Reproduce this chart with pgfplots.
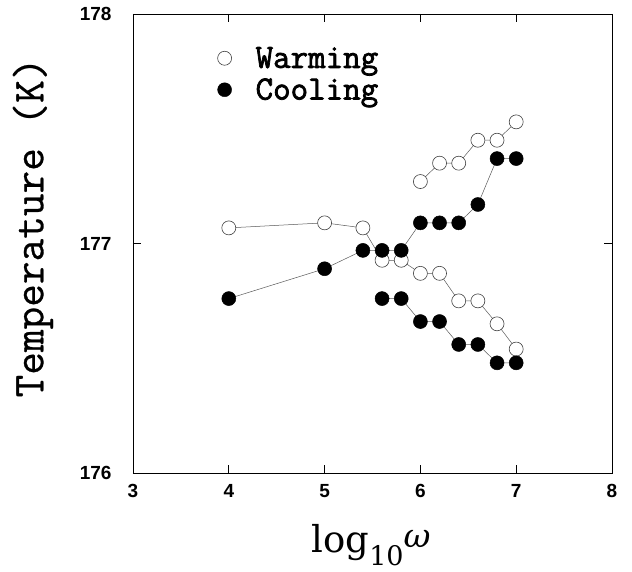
\documentclass[border=0pt]{standalone}
\usepackage{fontspec}
\setmainfont{Liberation Sans}
\newfontfamily\twfont{Latin Modern Mono}[FakeBold=0.6]
\newfontfamily\twbold{Latin Modern Mono}[FakeBold=2.2]
\newfontfamily\labelserif{DejaVu Serif}
\usepackage{pgfplots}
\pgfplotsset{compat=1.18}

% warming, two branches
\pgfplotstableread{
x y
4.0 177.068
5.0 177.090
5.4 177.068
5.6 176.927
5.8 176.927
6.0 176.870
6.2 176.870
6.4 176.750
6.6 176.750
6.8 176.650
7.0 176.540
}\warmlow
\pgfplotstableread{
x y
6.0 177.270
6.2 177.350
6.4 177.350
6.6 177.450
6.8 177.450
7.0 177.530
}\warmhigh
% cooling, two branches
\pgfplotstableread{
x y
4.0 176.760
5.0 176.890
5.4 176.970
5.6 176.970
5.8 176.970
6.0 177.090
6.2 177.090
6.4 177.090
6.6 177.170
6.8 177.370
7.0 177.370
}\coolhigh
\pgfplotstableread{
x y
5.6 176.760
5.8 176.760
6.0 176.660
6.2 176.660
6.4 176.560
6.6 176.560
6.8 176.480
7.0 176.480
}\coollow

\begin{document}
\begin{tikzpicture}
\useasboundingbox (-133pt,-98pt) rectangle (499pt,473pt);
\begin{axis}[
    at={(0,0)}, anchor=south west,
    scale only axis, width=479pt, height=459pt,
    xmin=3, xmax=8, ymin=176, ymax=178,
    xtick={3,4,5,6,7,8}, ytick={176,177,178},
    minor tick num=0,
    tick align=inside, major tick length=8pt,
    axis line style={line width=0.9pt},
    every tick/.style={black, line width=0.9pt},
    /pgf/number format/assume math mode=true,
    /pgf/number format/1000 sep={},
    ticklabel style={font=\bfseries\fontsize{19}{19}\selectfont},
    xticklabel style={yshift=-8pt},
    yticklabel style={xshift=-18pt},
    ylabel={\twfont\fontsize{44}{44}\selectfont Temperature (K)},
    ylabel style={at={(rel axis cs:-0.209,0.535)}, anchor=center},
    xlabel={{\labelserif\fontsize{37}{37}\selectfont log}\raisebox{-13pt}{\labelserif\fontsize{27}{27}\selectfont 10}\raisebox{5pt}{\labelserif\itshape\fontsize{33}{33}\selectfont ω}},
    xlabel style={at={(rel axis cs:0.497,-0.157)}, anchor=center},
    legend style={at={(rel axis cs:0.17,0.937)}, anchor=north west,
        draw=none, fill=none,
        font=\twbold\fontsize{34}{34}\selectfont,
        row sep=5pt,
        /tikz/every odd column/.append style={column sep=22pt}},
    legend cell align=left,
    conn/.style={black!65, line width=0.5pt, mark size=7pt},
    warm/.style={conn, mark=*, mark options={draw=black!75, fill=white, line width=0.6pt}},
    cool/.style={conn, mark=*, mark options={draw=black, fill=black}},
]
\addplot[warm, forget plot] table {\warmlow};
\addplot[warm, forget plot] table {\warmhigh};
\addplot[cool, forget plot] table {\coolhigh};
\addplot[cool, forget plot] table {\coollow};
\addlegendimage{only marks, mark=*, mark size=7pt, mark options={draw=black!75, fill=white, line width=0.6pt}}
\addlegendentry{Warming}
\addlegendimage{only marks, mark=*, mark size=7pt, mark options={draw=black, fill=black}}
\addlegendentry{Cooling}
\end{axis}
\end{tikzpicture}
\end{document}
